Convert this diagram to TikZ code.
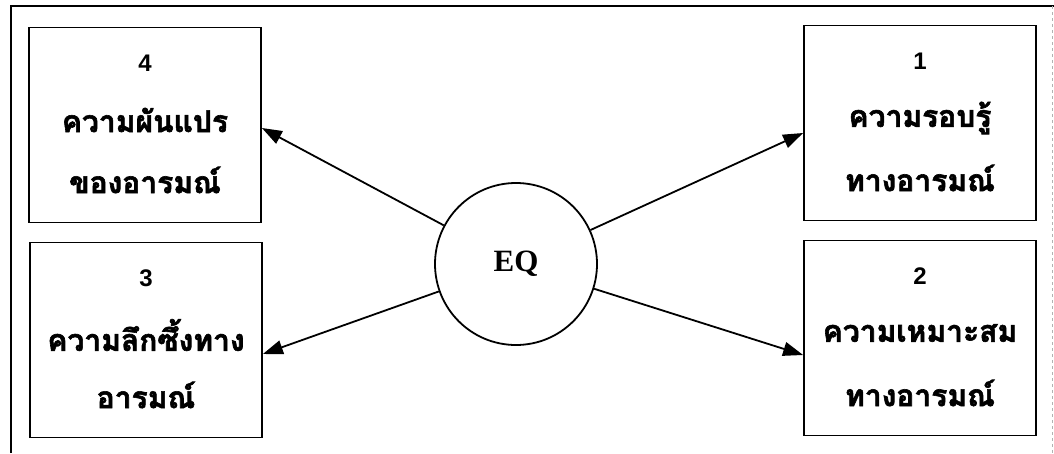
\documentclass[tikz,border=0pt]{standalone}
\usepackage{fontspec}
\newfontfamily\thaifont[Script=Thai,BoldFeatures={FakeBold=2}]{Loma}
\newfontfamily\numfont{Liberation Sans}
\newfontfamily\eqfont{Liberation Serif}
\usetikzlibrary{arrows.meta}
\begin{document}
\begin{tikzpicture}[x=1pt,y=-1pt,
  box/.style={draw,line width=1.8pt,minimum width=232pt,minimum height=195pt,inner sep=0pt,align=center},
  conn/.style={line width=1.8pt,-{Triangle[length=20pt,width=14pt]}},
  num/.style={font=\numfont\bfseries\fontsize{24}{26}\selectfont},
  thai/.style={font=\thaifont\bfseries\fontsize{30}{32}\selectfont}]
\useasboundingbox (0,0) rectangle (1054,453);
\draw[line width=1.8pt] (11,453) -- (11,6) -- (1054,6);
\draw[line width=0.8pt,gray!60,dashed] (1052,6) -- (1052,453);
\node[box] (b4) at (145,125) {};
\node[box] (b3) at (146,340) {};
\node[box] (b1) at (920,123) {};
\node[box] (b2) at (920,338) {};
\foreach \b/\n/\la/\lb in {b4/4/ความผันแปร/ของอารมณ์, b3/3/ความลึกซึ้งทาง/อารมณ์, b1/1/ความรอบรู้/ทางอารมณ์, b2/2/ความเหมาะสม/ทางอารมณ์}{
  \node[num] (\b n) at ([yshift=62pt]\b.center) {\n};
  \node[thai] (\b t) at ([yshift=5pt]\b.center) {\la};
  \node[thai] (\b u) at ([yshift=-55pt]\b.center) {\lb};
}
\node[circle,draw,line width=1.8pt,minimum size=162pt,inner sep=0pt,font=\eqfont\bfseries\fontsize{31}{33}\selectfont] (eq) at (516,264) {EQ};
\draw[conn] (eq) -- ([yshift=-3pt]b4.east);
\draw[conn] (eq) -- ([yshift=-14pt]b3.east);
\draw[conn] (eq) -- ([yshift=-10pt]b1.west);
\draw[conn] (eq) -- ([yshift=-17pt]b2.west);
\end{tikzpicture}
\end{document}
